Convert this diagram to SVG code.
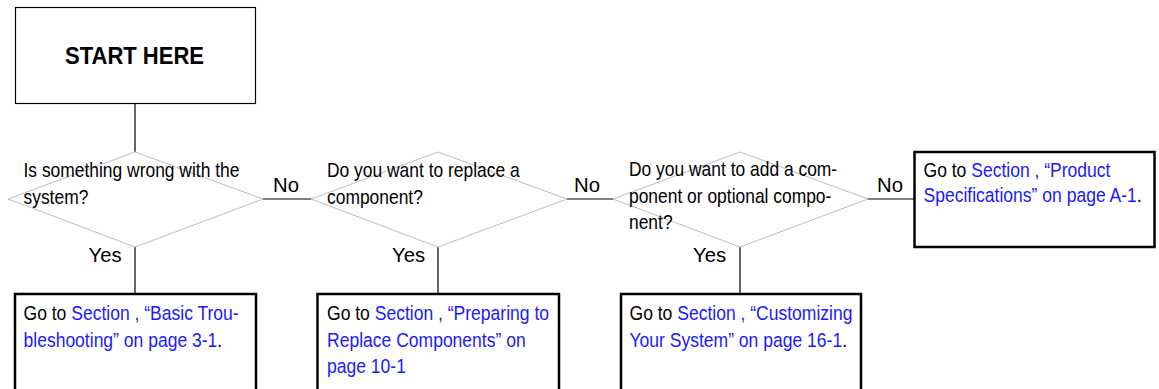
<svg xmlns="http://www.w3.org/2000/svg" width="1159" height="389" viewBox="0 0 1159 389">
<style>
.t{font-family:"Liberation Sans",Arial,sans-serif;font-size:20.5px;fill:#000}
.b{fill:#1a1aff}
.dia{fill:none;stroke:#bdbdbd;stroke-width:1}
.box{fill:#fff;stroke:#000;stroke-width:2.5}
.con{fill:none;stroke:#000;stroke-width:1.2}
.st{font-family:"Liberation Sans",Arial,sans-serif;font-size:23px;font-weight:bold;fill:#000}
</style>
<rect width="1159" height="389" fill="#fff"/>
<g id="connectors">
<line class="con" x1="135" y1="104" x2="135" y2="152"/>
<line class="con" x1="263" y1="199" x2="311" y2="199"/>
<line class="con" x1="567" y1="199" x2="613" y2="199"/>
<line class="con" x1="868" y1="199" x2="914" y2="199"/>
<line class="con" x1="135" y1="247" x2="135" y2="293"/>
<line class="con" x1="438" y1="247" x2="438" y2="293" stroke="#333"/>
<line class="con" x1="740" y1="247" x2="740" y2="293" stroke="#333"/>
<text class="t" x="273" y="192" textLength="26" lengthAdjust="spacingAndGlyphs">No</text>
<text class="t" x="574" y="192" textLength="26" lengthAdjust="spacingAndGlyphs">No</text>
<text class="t" x="877" y="192" textLength="26" lengthAdjust="spacingAndGlyphs">No</text>
<text class="t" x="88.5" y="262" textLength="33" lengthAdjust="spacingAndGlyphs">Yes</text>
<text class="t" x="392" y="262" textLength="33" lengthAdjust="spacingAndGlyphs">Yes</text>
<text class="t" x="693" y="262" textLength="33" lengthAdjust="spacingAndGlyphs">Yes</text>
</g>
<g id="start">
<rect x="15.5" y="7.5" width="240" height="96" fill="#fff" stroke="#000" stroke-width="1.2"/>
<text class="st" x="65" y="64" textLength="139" lengthAdjust="spacingAndGlyphs">START HERE</text>
</g>
<g id="q1">
<polygon class="dia" points="135,152 263,199 135,247 8,199"/>
<text class="t" transform="translate(23.5,177) scale(0.85,1)">Is something wrong with the</text>
<text class="t" transform="translate(23.5,204) scale(0.85,1)">system?</text>
</g>
<g id="q2">
<polygon class="dia" points="438,152 567,199 438,247 311,199"/>
<text class="t" transform="translate(327,177) scale(0.85,1)">Do you want to replace a</text>
<text class="t" transform="translate(327,204) scale(0.85,1)">component?</text>
</g>
<g id="q3">
<polygon class="dia" points="740,152 868,199 740,247 613,199"/>
<text class="t" transform="translate(629,176) scale(0.85,1)">Do you want to add a com-</text>
<text class="t" transform="translate(629,203) scale(0.85,1)">ponent or optional compo-</text>
<text class="t" transform="translate(629,229) scale(0.85,1)">nent?</text>
</g>
<g id="a1">
<rect class="box" x="15" y="294" width="241" height="110"/>
<text class="t" transform="translate(23.5,320) scale(0.855,1)">Go to <tspan class="b">Section , “Basic Trou-</tspan></text>
<text class="t" transform="translate(23.5,347) scale(0.855,1)"><tspan class="b">bleshooting” on page 3-1</tspan>.</text>
</g>
<g id="a2">
<rect class="box" x="317.5" y="294" width="241.5" height="110"/>
<text class="t" transform="translate(327,320) scale(0.855,1)">Go to <tspan class="b">Section , “Preparing to</tspan></text>
<text class="t" transform="translate(327,347) scale(0.855,1)"><tspan class="b">Replace Components” on</tspan></text>
<text class="t" transform="translate(327,373) scale(0.855,1)"><tspan class="b">page 10-1</tspan></text>
</g>
<g id="a3">
<rect class="box" x="621" y="294" width="240" height="110"/>
<text class="t" transform="translate(629.5,320) scale(0.855,1)">Go to <tspan class="b">Section , “Customizing</tspan></text>
<text class="t" transform="translate(629.5,347) scale(0.855,1)"><tspan class="b">Your System” on page 16-1</tspan>.</text>
</g>
<g id="a4">
<rect class="box" x="914.5" y="152" width="240" height="95"/>
<text class="t" transform="translate(923.5,177) scale(0.855,1)">Go to <tspan class="b">Section , “Product</tspan></text>
<text class="t" transform="translate(923.5,202) scale(0.855,1)"><tspan class="b">Specifications” on page A-1</tspan>.</text>
</g>
</svg>
